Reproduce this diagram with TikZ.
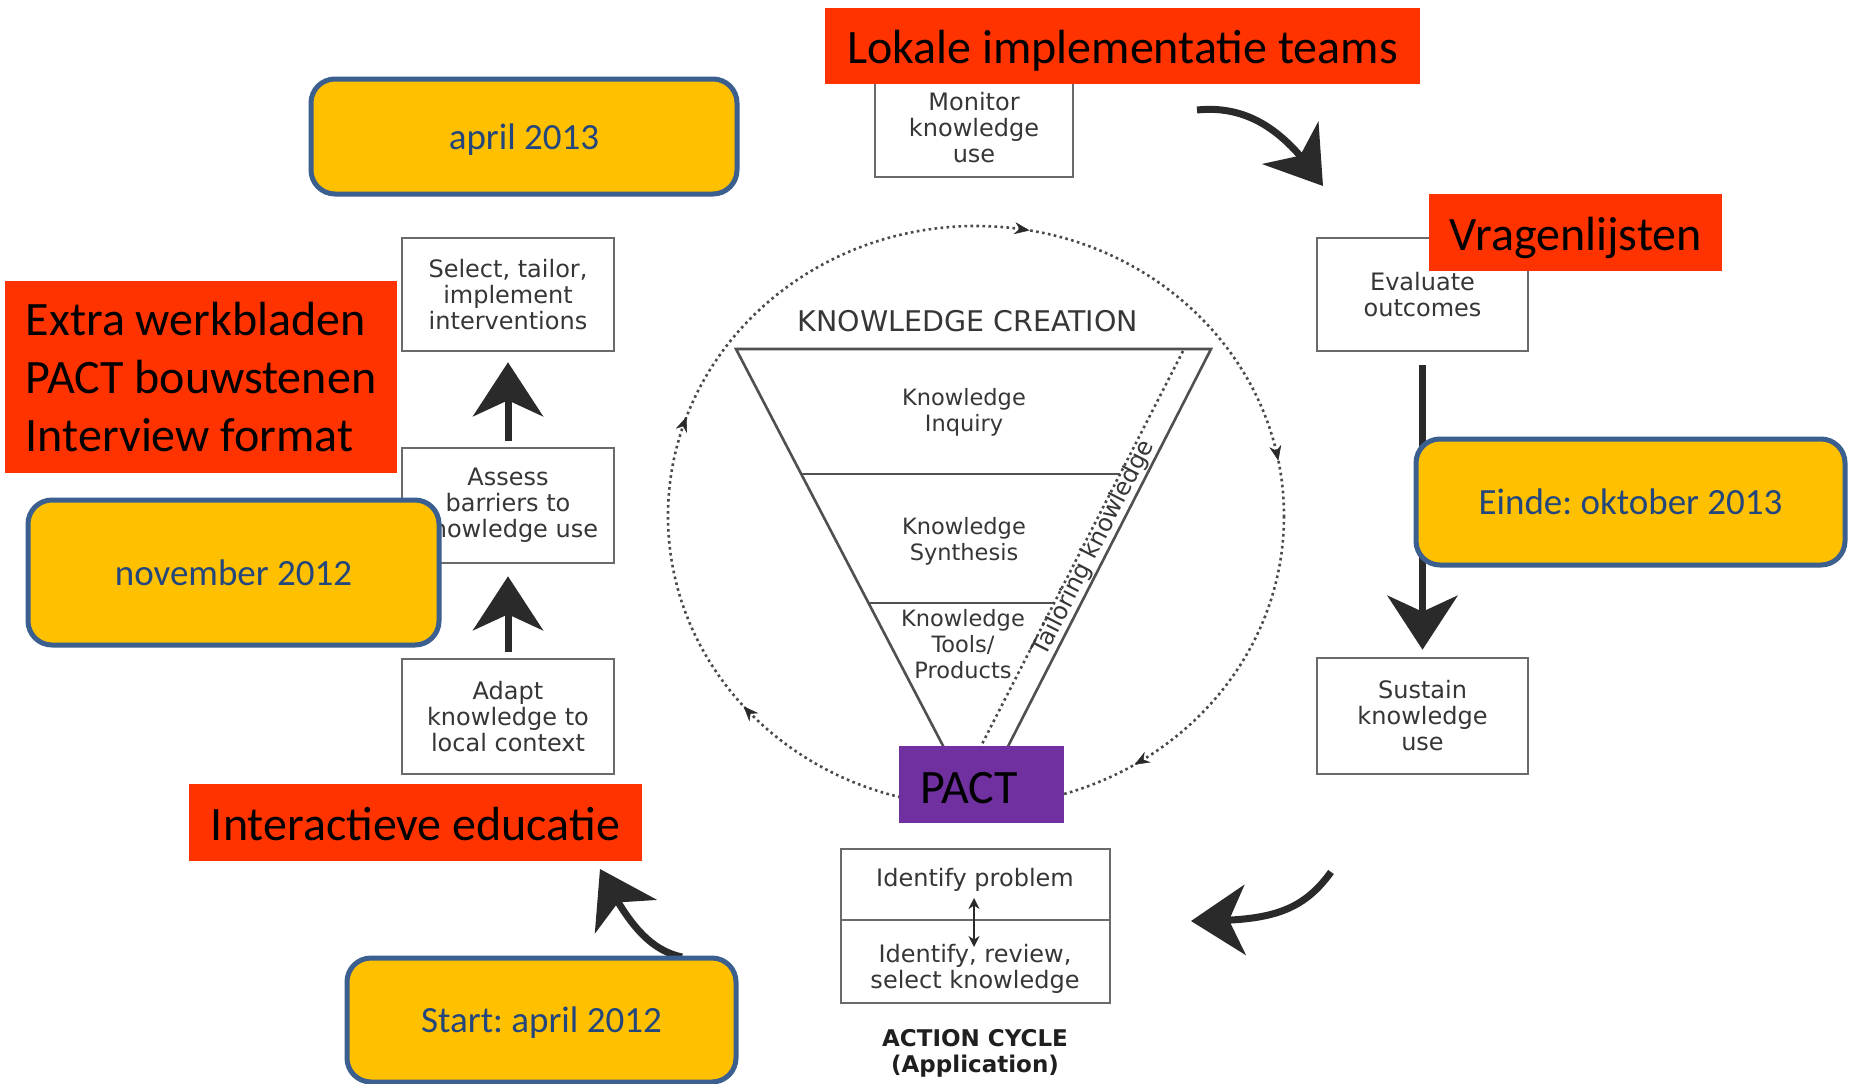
\documentclass[tikz,border=0pt]{standalone}
\usepackage{fontspec}
\setmainfont{Carlito}
\newfontfamily\vsans{DejaVu Sans}
\usetikzlibrary{arrows.meta,bending}
\definecolor{redbox}{HTML}{FF3300}
\definecolor{yel}{HTML}{FFC000}
\definecolor{yelborder}{HTML}{3B5F8E}
\definecolor{yeltext}{HTML}{23467D}
\definecolor{purp}{HTML}{7030A0}
\definecolor{gtext}{HTML}{363636}
\definecolor{gline}{HTML}{6A6A6A}
\definecolor{tline}{HTML}{505050}
\definecolor{dotc}{HTML}{4A4A4A}
\definecolor{arr}{HTML}{2A2A2A}
\frenchspacing
\begin{document}
\begin{tikzpicture}[x=1pt,y=-1pt,
 redlabel/.style={fill=redbox, inner sep=0pt, font=\fontsize{48}{58}\selectfont, text=black},
 yellowbox/.style={fill=yel, draw=yelborder, line width=5pt, rounded corners=24pt, inner sep=0pt,
   font=\fontsize{37}{44}\selectfont, text=yeltext, text height=25pt, text depth=0pt},
 graybox/.style={draw=gline, line width=2.6pt, fill=white, inner sep=0pt, align=center,
   font=\vsans\fontsize{24}{26}\selectfont, text=gtext},
 tritext/.style={align=center, font=\vsans\fontsize{22.5}{26}\selectfont, text=gtext, inner sep=0pt},
 boxtext/.style={align=center, font=\vsans\fontsize{24}{26}\selectfont, text=gtext, inner sep=0pt},
 triline/.style={draw=tline, line width=2.6pt},
 bigarrow/.style={draw=arr, line width=7pt, -{Stealth[length=54pt,width=70pt,inset=16pt]}},
 circarrow/.style={draw=arr, line width=0.5pt, -{Stealth[length=15pt,width=12pt]}},
 dots/.style={draw=dotc, line width=2.6pt, dash pattern=on 2.6pt off 3.4pt},
 dblarrow/.style={draw=arr, line width=2.2pt, {Stealth[length=11pt,width=11pt]}-{Stealth[length=11pt,width=11pt]}},
]
\useasboundingbox (0,0) rectangle (1855,1084);
\fill[white] (0,0) rectangle (1855,1084);

% ---- gray boxes of the action cycle
\node[graybox, minimum width=198, minimum height=98] (monitor) at (974,128) {Monitor\\knowledge\\use};
\node[graybox, minimum width=211, minimum height=113] (evaluate) at (1422.5,294.5) {Evaluate\\outcomes};
\node[graybox, minimum width=211, minimum height=116] (sustain) at (1422.5,716) {Sustain\\knowledge\\use};
\node[graybox, minimum width=212, minimum height=113] (select) at (508,294.5) {Select, tailor,\\implement\\interventions};
\node[graybox, minimum width=212, minimum height=115] (assess) at (508,505.5) {Assess\\barriers to\\knowledge use};
\node[graybox, minimum width=212, minimum height=115] (adapt) at (508,716.5) {Adapt\\knowledge to\\local context};
\node[graybox, minimum width=269, minimum height=154] (action) at (975.5,926) {};
\coordinate (divy) at (0,920);
\draw[draw=gline, line width=2.6pt] (action.west |- divy) -- (action.east |- divy);
\node[boxtext] (ip) at (975,880) {Identify problem};
\node[boxtext] (irs) at (975,969) {Identify, review,\\select knowledge};
\coordinate (da) at (974,898);
\coordinate (db) at (974,947);
\draw[dblarrow] (da) -- (db);
\node[align=center, inner sep=0pt, font=\vsans\bfseries\fontsize{23}{26}\selectfont, text=black!88] (ac) at (975,1053) {ACTION CYCLE\\(Application)};

% ---- knowledge creation funnel
\coordinate (tl) at (736,349);
\coordinate (tr) at (1211,349);
\coordinate (apex) at (976,809);
\draw[triline, line join=miter] (tl) -- (tr) -- (apex) -- cycle;
\draw[triline] (801,474) -- (1119.6,474);
\draw[triline] (868.5,603) -- (1054,603);
\draw[dots] (1183,351) -- (980,748);
\node[tritext, font=\vsans\fontsize{28.5}{32}\selectfont] (kc) at (968,321) {KNOWLEDGE CREATION};
\node[tritext] (inq) at (964,412) {Knowledge\\Inquiry};
\node[tritext] (syn) at (964,541) {Knowledge\\Synthesis};
\node[tritext] (tools) at (963,644) {Knowledge\\Tools/\\Products};
\node[tritext, font=\vsans\fontsize{24}{26}\selectfont, rotate=62.9] (tail) at (1094,548) {Tailoring knowledge};

% ---- dotted cycle
\draw[dots] (976,516) ellipse [x radius=308, y radius=290];
\draw[circarrow] (1025.5,229.8) -- (1029.5,230.4);
\draw[circarrow] (1277.5,456.8) -- (1278.3,460.7);
\draw[circarrow] (1138.1,762.6) -- (1134.6,764.6);
\draw[circarrow] (746.3,709.2) -- (743.6,706.3);
\draw[circarrow] (685.2,420.5) -- (686.6,416.8);

% ---- big arrows
\draw[bigarrow] ([yshift=6pt]adapt.north) -- ([yshift=-12pt]assess.south);
\draw[bigarrow] ([yshift=6pt]assess.north) -- ([yshift=-10pt]select.south);
\draw[bigarrow] ([yshift=-13pt]evaluate.south) -- ([yshift=7pt]sustain.north);
\coordinate (tra) at (1197,110);
\coordinate (trb) at (1323,186);
\draw[bigarrow] (tra) .. controls (1255,104) and (1292,140) .. (trb);
\coordinate (bra) at (1331,872);
\coordinate (brb) at (1191,921);
\draw[bigarrow] (bra) .. controls (1300,915) and (1265,921) .. (brb);
\coordinate (bla) at (682,957);
\coordinate (blb) at (600,869);
\draw[bigarrow] (bla) .. controls (650,950) and (628,925) .. (blb);

% ---- overlays: red labels
\node[redlabel, minimum width=595, minimum height=76, text height=35pt, text depth=0pt] (lokale) at (1122.5,46) {Lokale implementatie teams};
\node[redlabel, minimum width=293, minimum height=77, text height=35pt, text depth=0pt] (vragen) at (1575.5,232.5) {Vragenlijsten};
\node[redlabel, minimum width=453, minimum height=77, text height=35pt, text depth=0pt] (inter) at (415.5,822.5) {Interactieve educatie};
\node[redlabel, minimum width=392, minimum height=192, align=left] (extra) at (201,377) {Extra werkbladen\\PACT bouwstenen\\Interview format};

% ---- PACT
\node[fill=purp, inner sep=0pt, minimum width=165, minimum height=77, text width=123pt, align=left,
  text height=38pt, text depth=0pt, font=\fontsize{48}{58}\selectfont, text=black] (pact) at (981.5,784.5) {PACT};

% ---- yellow date boxes
\node[yellowbox, minimum width=426, minimum height=115] (apr13) at (524,136.5) {april 2013};
\node[yellowbox, minimum width=411, minimum height=145] (nov12) at (233.5,572.5) {november 2012};
\node[yellowbox, minimum width=429, minimum height=126] (einde) at (1630.5,502) {Einde: oktober 2013};
\node[yellowbox, minimum width=389, minimum height=124] (start) at (541.5,1020) {Start: april 2012};
\end{tikzpicture}
\end{document}
